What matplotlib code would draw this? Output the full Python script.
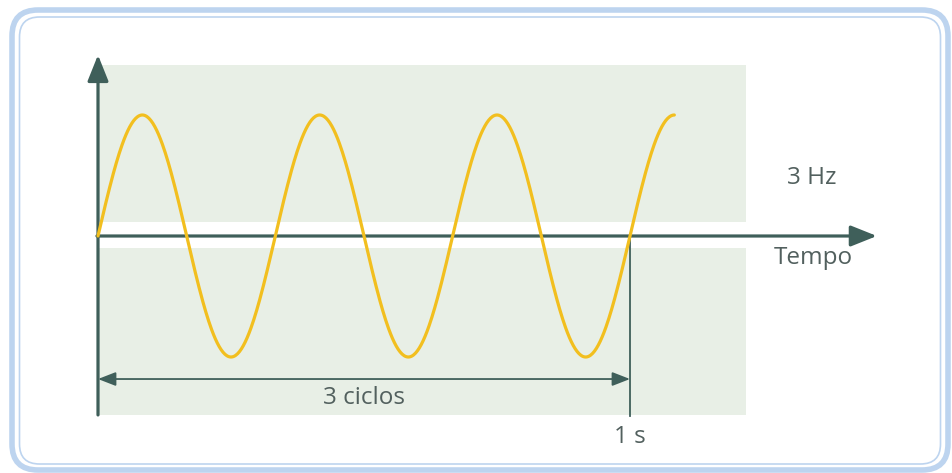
import matplotlib.pyplot as plt
import numpy as np
from matplotlib.patches import FancyBboxPatch, Rectangle

# data
freq_hz = 3
t_end = 13 / 12  # wave stops just after the 4th crest
t_mark = 1.0
labels = {"freq": "3 Hz", "axis": "Tempo", "cycles": "3 ciclos", "mark": "1 s"}

plt.rcParams["font.family"] = ["Open Sans", "DejaVu Sans"]

axis_col = "#3f5f5a"
text_col = "#52605e"
wave_col = "#f2bf1f"
band_col = "#e8efe6"
frame_col = "#bdd4ef"

fig = plt.figure(figsize=(9.53, 4.73), dpi=100)

# frame layer in pixel units
bg = fig.add_axes([0, 0, 1, 1])
bg.set_xlim(0, 953)
bg.set_ylim(473, 0)
bg.axis("off")
bg.add_patch(FancyBboxPatch((12, 10), 936, 460, boxstyle="round,pad=0,rounding_size=26",
                            fc="white", ec=frame_col, lw=4.0))
bg.add_patch(FancyBboxPatch((19.5, 17), 921, 447, boxstyle="round,pad=0,rounding_size=20",
                            fc="none", ec=frame_col, lw=1.2))

# chart layer: x in seconds, y in amplitude
ax = fig.add_axes([0, 0, 1, 1])
ax.patch.set_alpha(0)
ax.set_xlim(-98 / 532, 855 / 532)
ax.set_ylim(-237 / 121, 236 / 121)
ax.axis("off")

ax.add_patch(Rectangle((0, 0.116), 1.218, 1.297, fc=band_col, ec="none"))
ax.add_patch(Rectangle((0, -1.479), 1.218, 1.380, fc=band_col, ec="none"))

t = np.linspace(0, t_end, 600)
ax.plot(t, np.sin(2 * np.pi * freq_hz * t), color=wave_col, lw=2.3, solid_capstyle="round", zorder=4)

big = dict(arrowstyle="-|>,head_length=0.8,head_width=0.32", color=axis_col, lw=2.3,
           mutation_scale=20, shrinkA=0, shrinkB=0)
ax.annotate("", xy=(0, 1.496), xytext=(0, -1.479), arrowprops=big, zorder=3)
ax.annotate("", xy=(1.464, 0), xytext=(-0.002, 0), arrowprops=big, zorder=3)

small = dict(arrowstyle="<|-|>,head_length=0.9,head_width=0.35", color=axis_col, lw=1.3,
             mutation_scale=12, shrinkA=0, shrinkB=0)
ax.annotate("", xy=(t_mark, -1.182), xytext=(0, -1.182), arrowprops=small, zorder=3)
ax.plot([t_mark, t_mark], [0, -1.487], color=axis_col, lw=1.3, zorder=3)

fs = 17.5
ax.text(1.342, 0.479, labels["freq"], fontsize=fs, color=text_col, ha="center", va="center")
ax.text(1.344, -0.182, labels["axis"], fontsize=fs, color=text_col, ha="center", va="center")
ax.text(0.5, -1.339, labels["cycles"], fontsize=fs, color=text_col, ha="center", va="center")
ax.text(t_mark, -1.661, labels["mark"], fontsize=fs, color=text_col, ha="center", va="center")

fig.savefig("out.png", dpi=100)
